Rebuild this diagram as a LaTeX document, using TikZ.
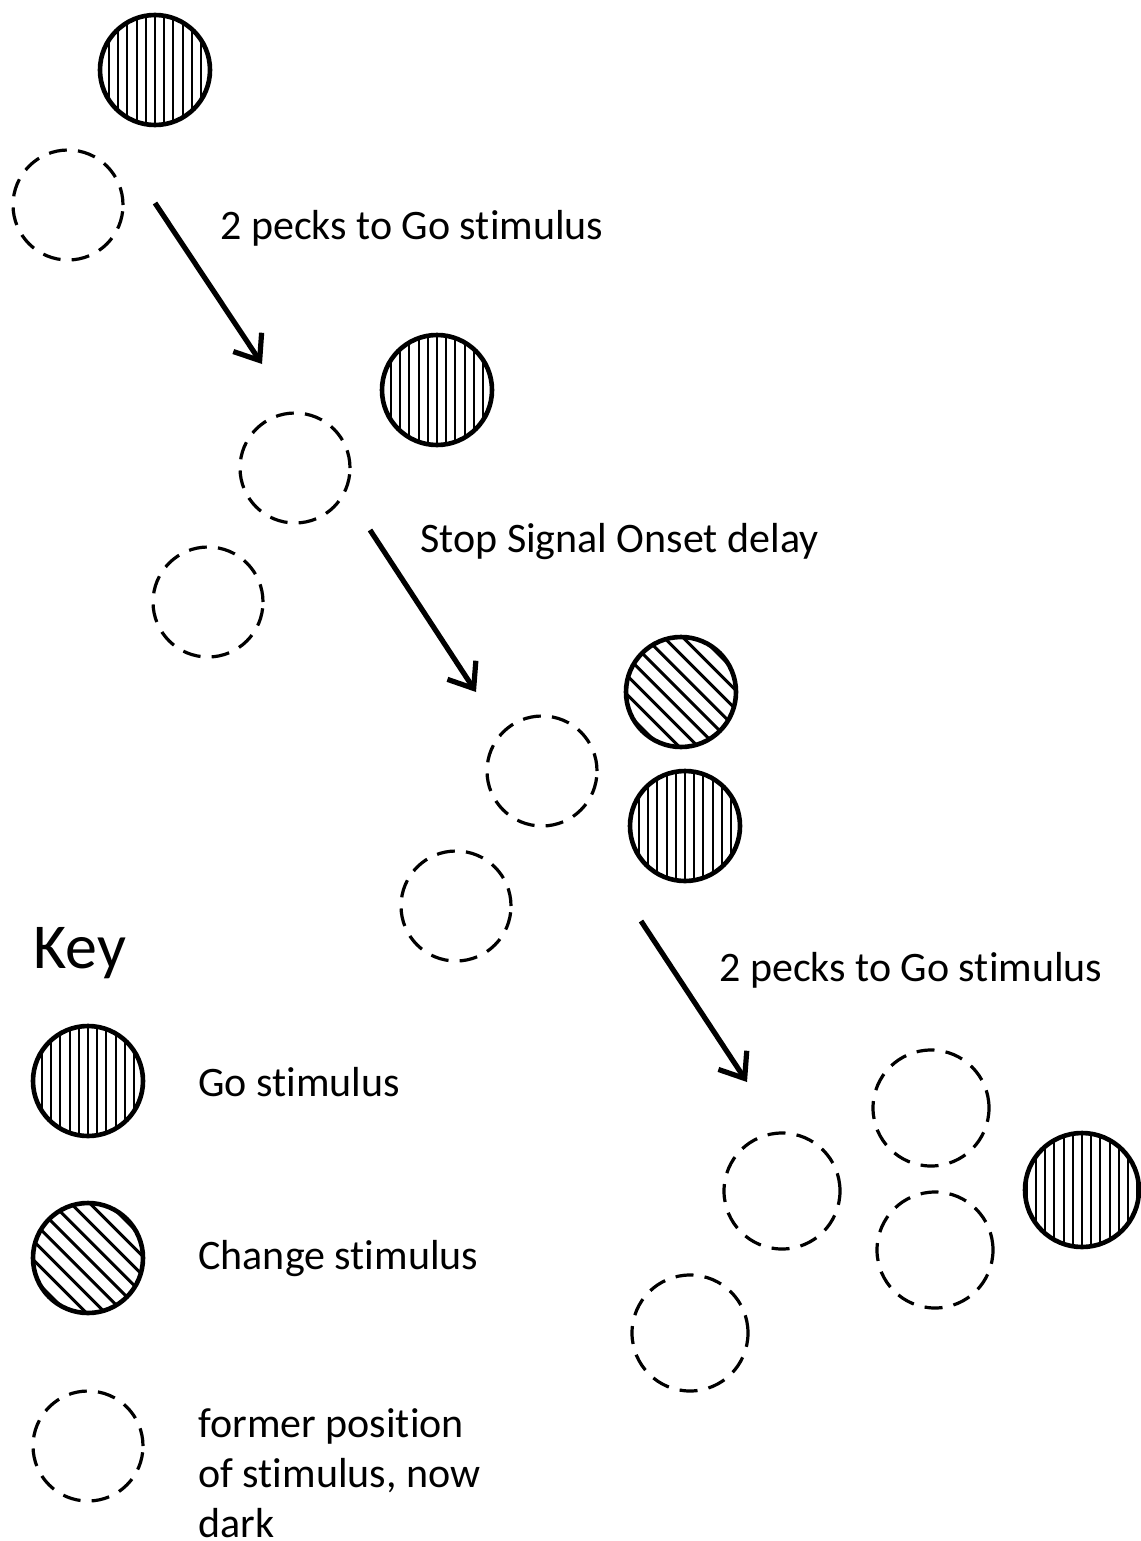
\documentclass[tikz,border=0pt]{standalone}
\usepackage{fontspec}
\setmainfont{Carlito}[Ligatures=NoCommon]
\usetikzlibrary{arrows.meta}
\begin{document}
\begin{tikzpicture}[x=0.5pt,y=-0.5pt,
  stim/.style={circle,minimum size=55pt,inner sep=0pt},
  gostim/.style={stim,draw,line width=2.3pt,
    path picture={\foreach \i in {-7,...,7}{\draw[line width=1pt] ([xshift=\i*4.6pt]path picture bounding box.north) -- ([xshift=\i*4.6pt]path picture bounding box.south);}}},
  chstim/.style={stim,draw,line width=2.3pt,
    path picture={\foreach \i in {-6,...,6}{\draw[line width=1.5pt] ([shift={(\i*9.4pt,0)}]path picture bounding box.center) ++(-30pt,30pt) -- ++(60pt,-60pt);}}},
  former/.style={stim,draw,line width=1.6pt,dash pattern=on 9pt off 5.6pt},
  arr/.style={line width=2.6pt,-{Straight Barb[length=11pt,width=17pt,line width=2.6pt]}},
  lbl/.style={font=\fontsize{21}{25}\selectfont,anchor=west,inner sep=0pt,align=left}
]
\useasboundingbox (0,0) rectangle (1140,1541);
% stage 1
\node[gostim] (g1) at (155,70) {};
\node[former] (f1) at (68,205) {};
\coordinate (a1s) at (155,203);
\coordinate (a1e) at (262,364);
\draw[arr] (a1s) -- (a1e);
\node[lbl] (t1) at (220,228) {2 pecks to Go stimulus};
% stage 2
\node[gostim] (g2) at (437,390) {};
\node[former] (f2) at (295,468) {};
\node[former] (f3) at (208,602) {};
\coordinate (a2s) at (370,530);
\coordinate (a2e) at (476,692);
\draw[arr] (a2s) -- (a2e);
\node[lbl] (t2) at (420,542) {Stop Signal Onset delay};
% stage 3
\node[chstim] (c3) at (681,692) {};
\node[former] (f4) at (542,771) {};
\node[gostim] (g3) at (685,826) {};
\node[former] (f5) at (456,906) {};
\coordinate (a3s) at (641,921);
\coordinate (a3e) at (747,1082);
\draw[arr] (a3s) -- (a3e);
\node[lbl] (t3) at (719,970) {2 pecks to Go stimulus};
% stage 4
\node[former,minimum size=58pt] (f6) at (931,1108) {};
\node[former,minimum size=58pt] (f7) at (782,1191) {};
\node[gostim,minimum size=57pt] (g4) at (1082,1190) {};
\node[former,minimum size=58pt] (f8) at (935,1250) {};
\node[former,minimum size=58pt] (f9) at (690,1333) {};
% key
\node[font=\fontsize{32}{34}\selectfont,anchor=west,inner sep=0pt] (key) at (33,953) {Key};
\node[gostim] (kg) at (88,1081) {};
\node[lbl] (kgt) at (198,1082) {Go stimulus};
\node[chstim] (kc) at (88,1258) {};
\node[lbl] (kct) at (198,1259) {Change stimulus};
\node[former] (kf) at (88,1446) {};
\node[lbl] (kft) at (198,1473) {former position\\of stimulus, now\\dark};
\end{tikzpicture}
\end{document}
